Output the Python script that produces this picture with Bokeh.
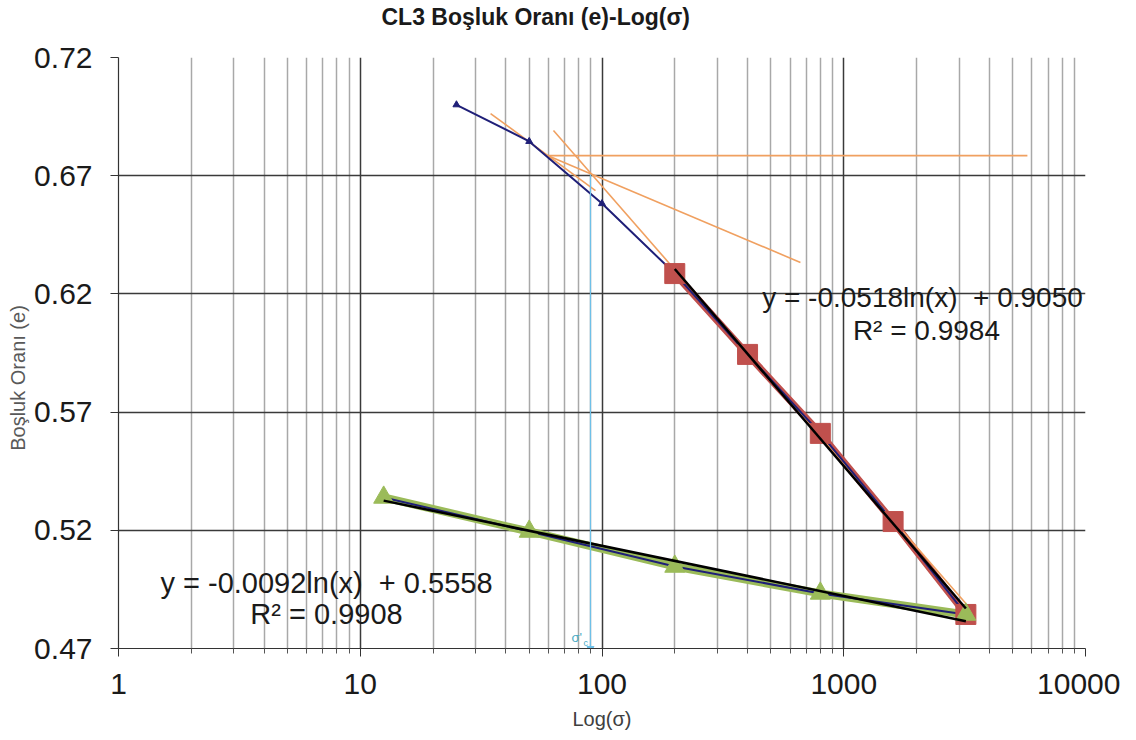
import numpy as np
from bokeh.plotting import figure
from bokeh.models import FixedTicker, NumeralTickFormatter, Title
from bokeh.core.properties import value
from bokeh.embed import file_html
from bokeh.resources import INLINE

# ---------------- data ----------------
chart_title = "CL3 Boşluk Oranı (e)-Log(σ)"
x_label = "Log(σ)"
y_label = "Boşluk Oranı (e)"

load_sigma = [25, 50, 100, 200, 400, 800, 1600, 3200]
load_e = [0.7000, 0.6845, 0.6582, 0.6286, 0.5944, 0.5610, 0.5237, 0.4844]

early_sigma = [25, 50, 100]
early_e = [0.7000, 0.6845, 0.6582]

virgin_sigma = [200, 400, 800, 1600, 3200]
virgin_e = [0.6286, 0.5944, 0.5610, 0.5237, 0.4844]

unload_sigma = [3200, 800, 200, 50, 12.5]
unload_e = [0.4844, 0.4933, 0.5047, 0.5195, 0.5339]

# log trendlines  y = a ln(x) + b
trend_virgin_ab = (-0.0518, 0.9050)
trend_virgin_range = [200, 3200]
trend_unload_ab = (-0.0092, 0.5558)
trend_unload_range = [12.5, 3200]
NB = "\u00a0"
eq_virgin = ["y = -0.0518ln(x)" + NB + NB + "+ 0.9050", "R² = 0.9984"]
eq_unload = ["y = -0.0092ln(x)" + NB + NB + "+ 0.5558", "R² = 0.9908"]

# Casagrande construction lines (data units)
cons_x0 = [34.6, 59.5, 59.5, 63.0]
cons_y0 = [0.6963, 0.6785, 0.6785, 0.6891]
cons_x1 = [94.0, 5750.0, 662.0, 3200.0]
cons_y1 = [0.6637, 0.6785, 0.6333, 0.4890]

sigma_c = 89.6
sigma_c_top = 0.6705
sigma_c_text = ["σ'", "c"]

x_major = [1, 10, 100, 1000, 10000]
x_minor = [m * 10 ** d for d in range(4) for m in range(2, 10)]
y_ticks = [0.47, 0.52, 0.57, 0.62, 0.67, 0.72]

FONT = "Liberation Sans"
SC_COL = "#4BACC6"

# ---------------- figure ----------------
p = figure(width=1120, height=736, x_axis_type="log",
           x_range=(1, 10000), y_range=(0.47, 0.72),
           output_backend="svg", toolbar_location=None,
           min_border_left=118, min_border_right=35,
           min_border_top=57, min_border_bottom=88)

# real title (outermost) + an empty spacer title next to the frame
p.title = Title(text=chart_title, align="left", offset=263,
                vertical_align="bottom",
                text_font=FONT, text_font_size="23px",
                text_font_style="bold", text_color="#1a1a1a", standoff=0)
p.add_layout(Title(text=NB, text_font_size="18px", standoff=6,
                   text_color="white"), "above")

p.outline_line_color = None
p.background_fill_color = "white"
p.border_fill_color = "white"

xt = FixedTicker(ticks=x_major, minor_ticks=x_minor)
p.xaxis.ticker = xt
p.xgrid.ticker = xt
p.xaxis.formatter = NumeralTickFormatter(format="0")
yt = FixedTicker(ticks=y_ticks)
p.yaxis.ticker = yt
p.ygrid.ticker = yt
p.yaxis.formatter = NumeralTickFormatter(format="0.00")

for ax in (p.xaxis[0], p.yaxis[0]):
    ax.axis_line_color = "#333333"
    ax.axis_line_width = 1.2
    ax.major_tick_line_color = "#333333"
    ax.major_tick_out = 8
    ax.major_tick_in = 0
    ax.major_label_text_font = FONT
    ax.major_label_text_font_size = "30px"
    ax.major_label_text_color = "#1a1a1a"
    ax.axis_label_text_font = FONT
    ax.axis_label_text_font_style = "normal"

p.xaxis.minor_tick_line_color = "#555555"
p.xaxis.minor_tick_out = 5
p.xaxis.minor_tick_in = 0
p.xaxis.major_label_standoff = 17
p.xaxis.axis_label = x_label
p.xaxis.axis_label_text_font_size = "20px"
p.xaxis.axis_label_text_color = "#404040"
p.xaxis.axis_label_standoff = 11

p.yaxis.minor_tick_line_color = None
p.yaxis.major_label_standoff = 18
p.yaxis.axis_label = y_label + NB * 9
p.yaxis.axis_label_text_font_size = "20px"
p.yaxis.axis_label_text_color = "#595959"
p.yaxis.axis_label_standoff = 2

p.xgrid.grid_line_color = "#3a3a3a"
p.xgrid.grid_line_width = 1.5
p.xgrid.minor_grid_line_color = "#a8a8a8"
p.xgrid.minor_grid_line_width = 1.5
p.ygrid.grid_line_color = "#3a3a3a"
p.ygrid.grid_line_width = 1.5

# ---------------- series ----------------
p.line(unload_sigma, unload_e, line_color="#9BBB59", line_width=8)
p.line(virgin_sigma, virgin_e, line_color="#C0504D", line_width=7)

p.segment(cons_x0, cons_y0, cons_x1, cons_y1, line_color="#F0A060",
          line_width=1.6)

p.line(load_sigma, load_e, line_color="#1F1F78", line_width=2)
p.line(unload_sigma, unload_e, line_color="#1F1F78", line_width=2)

p.scatter(virgin_sigma, virgin_e, marker="square", size=20,
          fill_color="#C0504D", line_color="#C0504D")
p.scatter(unload_sigma, unload_e, marker="triangle", size=20,
          fill_color="#9BBB59", line_color="#9BBB59")
p.scatter(early_sigma, early_e, marker="triangle", size=7,
          fill_color="#1F1F78", line_color="#1F1F78")

for (a, b), rng in ((trend_virgin_ab, trend_virgin_range),
                    (trend_unload_ab, trend_unload_range)):
    xs = np.array(rng, dtype=float)
    p.line(xs, a * np.log(xs) + b, line_color="black", line_width=2.5)

# sigma'c marker
p.segment([sigma_c], [sigma_c_top], [sigma_c], [0.47],
          line_color="#6EC0E8", line_width=1.2)
p.scatter([sigma_c], [0.47], marker="inverted_triangle", size=7,
          fill_color="#6EC0E8", line_color="#6EC0E8")
p.text(x=[sigma_c], y=[0.47], text=[sigma_c_text[0]], x_offset=-19,
       y_offset=-4, text_font=value(FONT), text_font_size="13px",
       text_color=SC_COL, text_align="left", text_baseline="bottom")
p.text(x=[sigma_c], y=[0.47], text=[sigma_c_text[1]], x_offset=-7,
       y_offset=-1, text_font=value(FONT), text_font_size="9px",
       text_color=SC_COL, text_align="left", text_baseline="bottom")

# equations
p.text(x=[2117, 2198], y=[0.6185, 0.6045], text=eq_virgin,
       text_font=value(FONT), text_font_size="28px", text_color="#1a1a1a",
       text_align="center", text_baseline="middle")
p.text(x=[7.25, 7.25], y=[0.4979, 0.4844], text=eq_unload,
       text_font=value(FONT), text_font_size="29px", text_color="#1a1a1a",
       text_align="center", text_baseline="middle")

open("out.html", "w").write(file_html(p, INLINE))
